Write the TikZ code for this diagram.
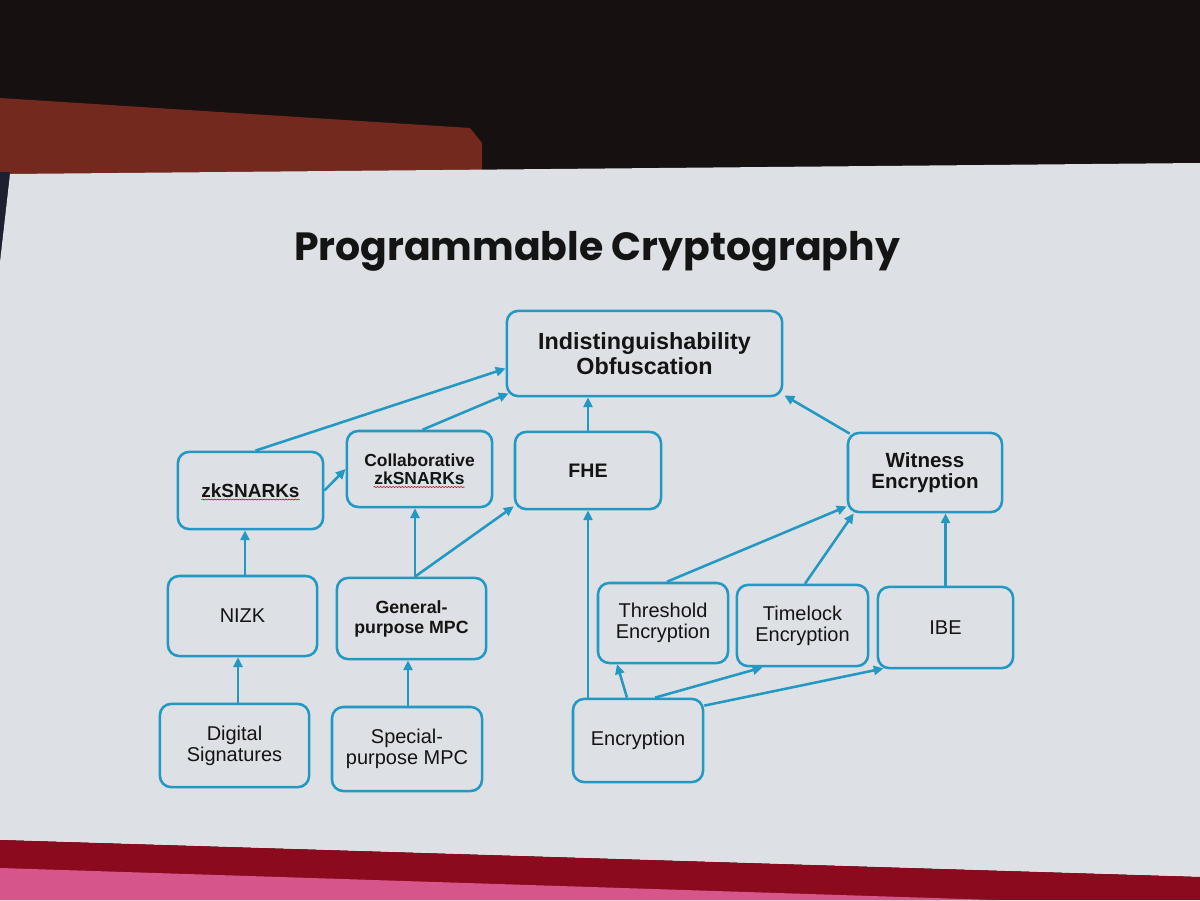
\documentclass[tikz,border=0pt]{standalone}
\usepackage{fontspec}
\setmainfont{Liberation Sans}
\newfontfamily\titlefont{Poppins}
\usetikzlibrary{calc,arrows.meta,decorations.pathmorphing}

\definecolor{roomdark}{HTML}{171011}
\definecolor{beamred}{HTML}{74291F}
\definecolor{screenedge}{HTML}{1D2030}
\definecolor{slidegray}{HTML}{DDE0E4}
\definecolor{stagered}{HTML}{8C0A1E}
\definecolor{stagepink}{HTML}{D6568C}
\definecolor{linkblue}{HTML}{2298C2}
\definecolor{inkblack}{HTML}{141414}

\begin{document}
\begin{tikzpicture}[x=0.025cm,y=-0.025cm]
	\newcommand{\linkWidth}{1.8pt}
	\newcommand{\plainSize}{\fontsize{14.2}{15}\selectfont}
	\tikzset{
		crypto_box/.style={draw=linkblue, line width=\linkWidth, rounded corners=8pt, align=center, inner sep=0pt, text=inkblack, font=\plainSize},
		crypto_link/.style={draw=linkblue, line width=\linkWidth, -{Triangle[length=7pt,width=6.5pt]}},
		spell_mark/.style={draw=red!70!black, line width=0.4pt, decorate, decoration={snake, amplitude=0.35pt, segment length=2.2pt}}
	}
	\useasboundingbox (0,0) rectangle (1200,900);

	% room, screen and stage
	\fill[roomdark] (0,0) rectangle (1200,900);
	\fill[beamred] (0,98) -- (470,128) -- (482,143) -- (482,176) -- (0,176) -- cycle;
	\fill[screenedge] (0,172) -- (10,172) -- (0,262) -- cycle;
	\fill[slidegray] (10,174) -- (1200,163) -- (1200,877) -- (0,840) -- (0,262) -- cycle;
	\fill[stagered] (0,840) -- (1200,877) -- (1200,900) -- (0,900) -- cycle;
	\fill[stagepink] (0,868) -- (995,900) -- (0,900) -- cycle;

	\node[anchor=base, text=inkblack] (title) at (597,260) {\titlefont\bfseries\fontsize{28}{30}\selectfont Programmable Cryptography};

	% top row
	\node[crypto_box, minimum width=6.88cm, minimum height=2.13cm, font={\fontsize{16.6}{17.8}\selectfont\bfseries}] (io_box) at (644.5,353.5) {Indistinguishability\\Obfuscation};

	% second row
	\node[crypto_box, minimum width=3.63cm, minimum height=1.93cm, font={\fontsize{13.5}{15}\selectfont\bfseries}] (zk_snarks) at (250.5,490.5) {zkSNARKs};
	\node[crypto_box, minimum width=3.63cm, minimum height=1.9cm, font={\fontsize{12.4}{13}\selectfont\bfseries}] (collab_zk) at (419.5,469) {Collaborative\\zkSNARKs};
	\node[crypto_box, minimum width=3.65cm, minimum height=1.93cm, font={\fontsize{13.9}{15}\selectfont\bfseries}] (fhe) at (588,470.5) {FHE};
	\node[crypto_box, minimum width=3.85cm, minimum height=1.98cm, font={\fontsize{14.6}{15}\selectfont\bfseries}] (witness_enc) at (925,472.5) {Witness\\Encryption};

	% third row
	\node[crypto_box, minimum width=3.73cm, minimum height=2cm] (nizk) at (242.5,616) {NIZK};
	\node[crypto_box, minimum width=3.73cm, minimum height=2.03cm, font={\fontsize{12.6}{14.2}\selectfont\bfseries}] (general_mpc) at (411.5,618.5) {General-\\purpose MPC};
	\node[crypto_box, minimum width=3.25cm, minimum height=2cm] (threshold_enc) at (663,623) {Threshold\\Encryption};
	\node[crypto_box, minimum width=3.28cm, minimum height=2.03cm] (timelock_enc) at (802.5,625.5) {Timelock\\Encryption};
	\node[crypto_box, minimum width=3.38cm, minimum height=2.03cm] (ibe) at (945.5,627.5) {IBE};

	% bottom row
	\node[crypto_box, minimum width=3.73cm, minimum height=2.08cm] (digital_sig) at (234.5,745.5) {Digital\\Signatures};
	\node[crypto_box, minimum width=3.75cm, minimum height=2.1cm] (special_mpc) at (407,749) {Special-\\purpose MPC};
	\node[crypto_box, minimum width=3.25cm, minimum height=2.08cm] (encryption) at (638,740.5) {Encryption};

	% spell check marks
	\draw[spell_mark] ($(zk_snarks.center)+(-49,9)$) -- ++(98,0);
	\draw[spell_mark] ($(collab_zk.center)+(-46,18)$) -- ++(91,0);

	% link ends off the middle of a side
	\coordinate (nizk_top) at ($(nizk.north)+(2.5,0)$);
	\coordinate (mpc_top) at ($(general_mpc.north)+(3.5,0)$);
	\coordinate (sig_top) at ($(digital_sig.north)+(3.5,0)$);
	\coordinate (special_top) at ($(special_mpc.north)+(1,0)$);

	% links into the top box
	\draw[crypto_link] ($(zk_snarks.north)+(5,0)$) -- ($(io_box.west)+(0,15)$);
	\draw[crypto_link] ($(collab_zk.north)+(3,0)$) -- ($(io_box.south west)+(3,-4)$);
	\draw[crypto_link] (fhe.north) -- (fhe.north |- io_box.south);
	\draw[crypto_link] ($(witness_enc.north west)+(3,2)$) -- ($(io_box.south east)+(1,-2)$);

	% links into the second row
	\draw[crypto_link] (zk_snarks.east) -- (collab_zk.west);
	\draw[crypto_link] (nizk_top) -- (nizk_top |- zk_snarks.south);
	\draw[crypto_link] (mpc_top) -- (mpc_top |- collab_zk.south);
	\draw[crypto_link] (mpc_top) -- ($(fhe.south west)+(0,-4)$);
	\draw[crypto_link] (encryption.north -| fhe.south) -- (fhe.south);
	\draw[crypto_link] ($(threshold_enc.north)+(4,0)$) -- ($(witness_enc.south west)+(0,-7)$);
	\draw[crypto_link] ($(timelock_enc.north)+(2.5,0)$) -- ($(witness_enc.south west)+(7,0)$);
	\draw[crypto_link] (ibe.north) -- (ibe.north |- witness_enc.south);

	% links into the third row
	\draw[crypto_link] (sig_top) -- (sig_top |- nizk.south);
	\draw[crypto_link] (special_top) -- (special_top |- general_mpc.south);
	\draw[crypto_link] ($(encryption.north)+(-11,0)$) -- ($(threshold_enc.south)+(-46,0)$);
	\draw[crypto_link] ($(encryption.north)+(17,0)$) -- ($(timelock_enc.south)+(-40,0)$);
	\draw[crypto_link] ($(encryption.north east)+(0,8)$) -- ($(ibe.south west)+(7,-1)$);
\end{tikzpicture}
\end{document}
